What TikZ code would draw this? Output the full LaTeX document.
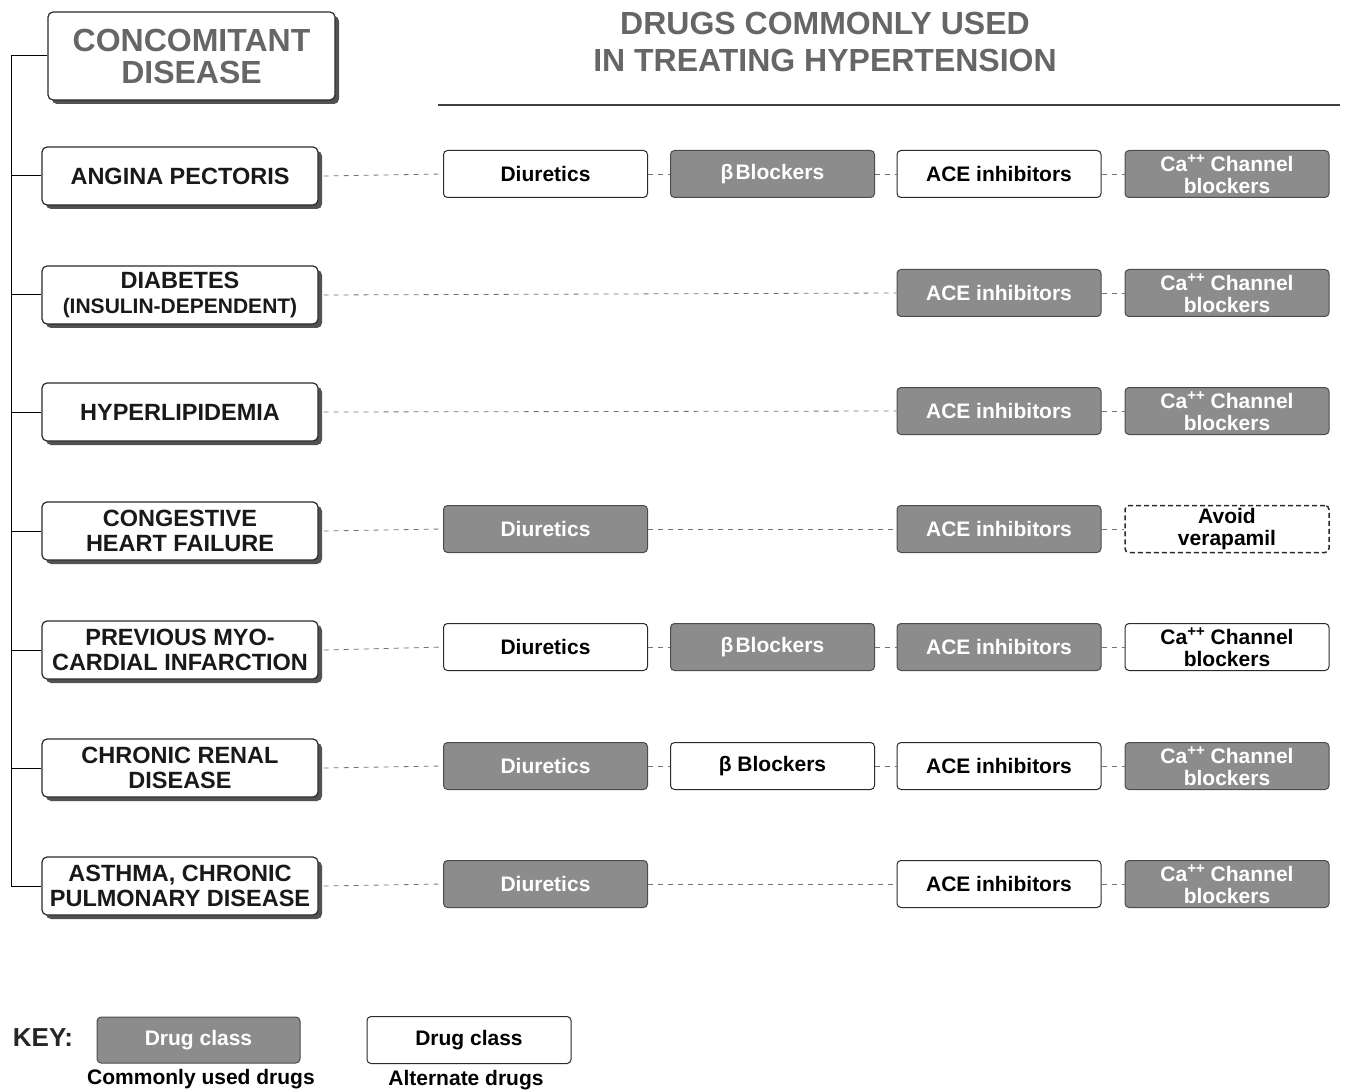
\documentclass[tikz,border=0pt]{standalone}
\usepackage{fontspec}
\setmainfont{Liberation Sans}
\usetikzlibrary{shadows}
\definecolor{boxgrey}{HTML}{8C8C8C}
\definecolor{titlegrey}{HTML}{666666}
\definecolor{edge}{HTML}{2A2A2A}
% superscript charge used in the calcium channel labels
\newcommand{\charge}{\raisebox{0.38em}{\fontsize{15}{15}\selectfont ++}}
\begin{document}
\begin{tikzpicture}[x=1pt,y=-1pt,
  shade3d/.style={drop shadow={shadow xshift=4pt,shadow yshift=-4pt,fill=black!68,opacity=1}},
  headbox/.style={draw=edge,line width=1.2pt,rounded corners=5pt,fill=white,shade3d,
    minimum width=287pt,minimum height=88pt,inner sep=0pt,align=center,text=titlegrey,
    font=\fontsize{32}{32}\selectfont\bfseries},
  disease/.style={draw=edge,line width=1.2pt,rounded corners=5pt,fill=white,shade3d,
    minimum width=276pt,minimum height=58pt,inner sep=0pt,align=center,text=black!90,
    font=\fontsize{23.5}{24.5}\selectfont\bfseries},
  alt/.style={draw=edge,line width=1pt,rounded corners=4pt,fill=white,
    minimum width=204pt,minimum height=47pt,inner sep=0pt,align=center,text=black,
    font=\fontsize{21}{22}\selectfont\bfseries},
  common/.style={alt,fill=boxgrey,draw=black!70,text=white},
  avoid/.style={alt,dash pattern=on 5pt off 3pt,line width=1.5pt},
  link/.style={draw=black!55,line width=0.8pt,dash pattern=on 5pt off 5pt},
  tree/.style={draw=black,line width=1pt},
  keylabel/.style={font=\fontsize{21}{22}\selectfont\bfseries,text=black}]
\useasboundingbox (0,0) rectangle (1371,1091);

% headings
\node[headbox] (head) at (191.5,56) {CONCOMITANT\\DISEASE};
\node[align=center,text=titlegrey,font=\fontsize{32}{37}\selectfont\bfseries] (drugs) at (825,42)
  {DRUGS COMMONLY USED\\IN TREATING HYPERTENSION};
\draw[line width=2.5pt,draw=black!75] (438,105) -- (1340,105);

% diseases
\node[disease] (angina) at (180,176) {ANGINA PECTORIS};
\node[disease] (diab)   at (180,295) {DIABETES\\{\fontsize{21}{22}\selectfont(INSULIN-DEPENDENT)}};
\node[disease] (lipid)  at (180,412) {HYPERLIPIDEMIA};
\node[disease] (chf)    at (180,531) {CONGESTIVE\\HEART FAILURE};
\node[disease] (mi)     at (180,650) {PREVIOUS MYO-\\CARDIAL INFARCTION};
\node[disease] (renal)  at (180,768) {CHRONIC RENAL\\DISEASE};
\node[disease] (asthma) at (180,886) {ASTHMA, CHRONIC\\PULMONARY DISEASE};

% spine on the left
\coordinate (spine) at (11,0);
\draw[tree] (head.west -| spine) -- (asthma.west -| spine);
\foreach \n in {head,angina,diab,lipid,chf,mi,renal,asthma}
  \draw[tree] (\n.west) -- (\n.west -| spine);

% drug classes: angina pectoris
\node[alt]    (a1) at (545.5,174) {Diuretics};
\node[common] (a2) at (772.5,174) {β\hspace{2pt}Blockers};
\node[alt]    (a3) at (999,174)   {ACE inhibitors};
\node[common] (a4) at (1227,174)  {Ca\charge\ Channel\\blockers};
% diabetes
\node[common] (b3) at (999,293)   {ACE inhibitors};
\node[common] (b4) at (1227,293)  {Ca\charge\ Channel\\blockers};
% hyperlipidemia
\node[common] (c3) at (999,411)   {ACE inhibitors};
\node[common] (c4) at (1227,411)  {Ca\charge\ Channel\\blockers};
% congestive heart failure
\node[common] (d1) at (545.5,529) {Diuretics};
\node[common] (d3) at (999,529)   {ACE inhibitors};
\node[avoid]  (d4) at (1227,529)  {Avoid\\verapamil};
% myocardial infarction
\node[alt]    (e1) at (545.5,647) {Diuretics};
\node[common] (e2) at (772.5,647) {β\hspace{2pt}Blockers};
\node[common] (e3) at (999,647)   {ACE inhibitors};
\node[alt]    (e4) at (1227,647)  {Ca\charge\ Channel\\blockers};
% chronic renal disease
\node[common] (f1) at (545.5,766) {Diuretics};
\node[alt]    (f2) at (772.5,766) {β Blockers};
\node[alt]    (f3) at (999,766)   {ACE inhibitors};
\node[common] (f4) at (1227,766)  {Ca\charge\ Channel\\blockers};
% asthma, chronic pulmonary disease
\node[common] (g1) at (545.5,884) {Diuretics};
\node[alt]    (g3) at (999,884)   {ACE inhibitors};
\node[common] (g4) at (1227,884)  {Ca\charge\ Channel\\blockers};

% dashed rows
\draw[link] ([xshift=5pt]angina.east) -- (a1.west);
\draw[link] (a1) -- (a2); \draw[link] (a2) -- (a3); \draw[link] (a3) -- (a4);
\draw[link] ([xshift=5pt]diab.east) -- (b3.west); \draw[link] (b3) -- (b4);
\draw[link] ([xshift=5pt]lipid.east) -- (c3.west); \draw[link] (c3) -- (c4);
\draw[link] ([xshift=5pt]chf.east) -- (d1.west); \draw[link] (d1) -- (d3); \draw[link] (d3) -- (d4);
\draw[link] ([xshift=5pt]mi.east) -- (e1.west);
\draw[link] (e1) -- (e2); \draw[link] (e2) -- (e3); \draw[link] (e3) -- (e4);
\draw[link] ([xshift=5pt]renal.east) -- (f1.west);
\draw[link] (f1) -- (f2); \draw[link] (f2) -- (f3); \draw[link] (f3) -- (f4);
\draw[link] ([xshift=5pt]asthma.east) -- (g1.west); \draw[link] (g1) -- (g3); \draw[link] (g3) -- (g4);

% key
\node[font=\fontsize{26}{26}\selectfont\bfseries,text=black!85] (key) at (43,1038) {KEY:};
\node[common,minimum width=203pt,minimum height=46pt] (kc) at (198.5,1040) {Drug class};
\node[alt] (ka) at (469,1040) {Drug class};
\node[keylabel] (kcl) at (201,1079) {Commonly used drugs};
\node[keylabel] (kal) at (466,1080) {Alternate drugs};
\end{tikzpicture}
\end{document}
